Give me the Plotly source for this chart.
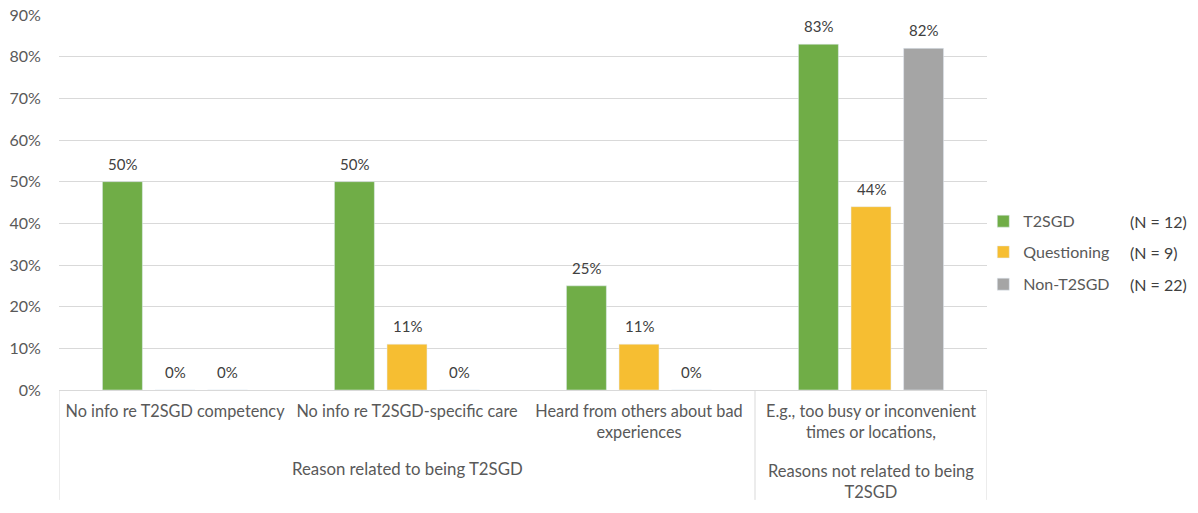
import plotly.graph_objects as go

# Reasons for not seeking care, share of respondents by group
reasons = [
    "No info re T2SGD competency",
    "No info re T2SGD-specific care",
    "Heard from others about bad<br>experiences",
    "E.g., too busy or inconvenient<br>times or locations,",
]
t2sgd = [0.50, 0.50, 0.25, 0.83]
questioning = [0.00, 0.11, 0.11, 0.44]
non_t2sgd = [0.00, 0.00, 0.00, 0.82]

series_names = ["T2SGD", "Questioning", "Non-T2SGD"]
series_n = ["(N = 12)", "(N = 9)", "(N = 22)"]
series_colors = ["#70AD47", "#F6BE32", "#A5A5A5"]

group_labels = ["Reason related to being T2SGD", "Reasons not related to being<br>T2SGD"]
y_ticks = [0.0, 0.1, 0.2, 0.3, 0.4, 0.5, 0.6, 0.7, 0.8, 0.9]

FONT = "Lato, 'Open Sans', sans-serif"
TXT = "#595959"
BARGAP = 0.32
GROUPGAP = 0.24

xpos = list(range(len(reasons)))
all_series = [t2sgd, questioning, non_t2sgd]
fig = go.Figure()
legend_ids = ["legend", "legend2", "legend3"]
for name, vals, col, lg in zip(series_names, all_series, series_colors, legend_ids):
    fig.add_trace(go.Bar(
        x=xpos, y=vals, name=name, marker_color=col, legend=lg, showlegend=True,
    ))

annotations = []

# Value labels above each bar, placed at the bar's own value on the y scale
slot = (1 - BARGAP) / len(all_series)
for k, vals in enumerate(all_series):
    offset = (k - (len(all_series) - 1) / 2) * slot
    for xi, v in zip(xpos, vals):
        annotations.append(dict(
            x=xi + offset, y=v, xref="x", yref="y", text=f"{v:.0%}", showarrow=False,
            yanchor="bottom", yshift=7,
            font=dict(family=FONT, size=15, color="#404040"),
        ))

# Legend rows, one legend per series so the rows can be spaced freely
leg_y = [0.45, 0.368, 0.282]
for lg, yy in zip(legend_ids, leg_y):
    fig.update_layout(**{lg: dict(
        x=0.996, y=yy, xanchor="left", yanchor="middle",
        font=dict(family=FONT, size=16, color=TXT),
        bgcolor="rgba(0,0,0,0)", itemwidth=30,
    )})

for n, yy in zip(series_n, leg_y):
    annotations.append(dict(
        x=1.152, y=yy, xref="paper", yref="paper", text=n, showarrow=False,
        xanchor="left", yanchor="middle",
        font=dict(family=FONT, size=16, color="#404040"),
    ))

# Outer category labels
annotations.append(dict(x=1.0, y=-0.21, xref="x", yref="paper", text=group_labels[0],
                        showarrow=False, yanchor="middle",
                        font=dict(family=FONT, size=16.8, color=TXT)))
annotations.append(dict(x=3.0, y=-0.245, xref="x", yref="paper", text=group_labels[1],
                        showarrow=False, yanchor="middle",
                        font=dict(family=FONT, size=16.5, color=TXT)))

# Vertical dividers between category groups
shapes = []
for xb in [-0.5, 2.5, 3.5]:
    shapes.append(dict(type="line", xref="x", yref="paper", x0=xb, x1=xb, y0=0, y1=-0.293,
                       line=dict(color="#D9D9D9", width=1)))

fig.update_layout(
    width=1198, height=513, showlegend=True,
    margin=dict(l=59, r=211, t=15, b=123),
    plot_bgcolor="white", paper_bgcolor="white",
    barmode="group", bargap=BARGAP, bargroupgap=GROUPGAP,
    font=dict(family=FONT, size=15, color=TXT),
    annotations=annotations, shapes=shapes,
    xaxis=dict(
        tickmode="array", tickvals=xpos, ticktext=reasons, range=[-0.5, 3.5],
        showgrid=False, zeroline=False, showline=True, linecolor="#D9D9D9",
        ticks="outside", ticklen=6, tickcolor="rgba(0,0,0,0)", automargin=False,
        tickfont=dict(family=FONT, size=16.3, color=TXT), fixedrange=True,
    ),
    yaxis=dict(
        range=[0, 0.9], tickvals=y_ticks, tickformat=".0%",
        showgrid=True, gridcolor="#D9D9D9", zeroline=False, showline=False,
        ticks="outside", ticklen=14, tickcolor="rgba(0,0,0,0)", automargin=False,
        tickfont=dict(family=FONT, size=16, color=TXT),
    ),
)

fig.write_html("out.html")
